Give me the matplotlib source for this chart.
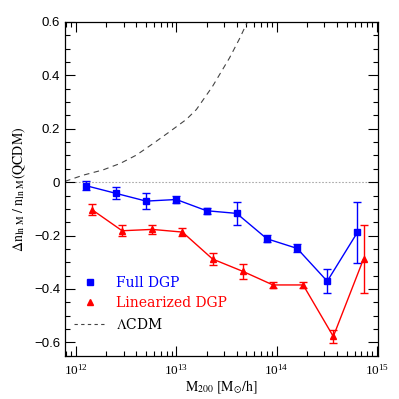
import numpy as np
import matplotlib
matplotlib.use("Agg")
import matplotlib.pyplot as plt
from matplotlib.lines import Line2D
from matplotlib.ticker import MultipleLocator, LogLocator, NullFormatter

plt.rcParams['font.family'] = ['Liberation Serif', 'DejaVu Serif']
plt.rcParams['mathtext.fontset'] = 'stix'

# Full DGP (blue squares)
full_m = [1.25e12, 2.5e12, 5e12, 1e13, 2e13, 4e13, 8e13, 1.6e14, 3.2e14, 6.4e14]
full_y = [-0.013, -0.042, -0.071, -0.065, -0.107, -0.117, -0.212, -0.248, -0.371, -0.188]
full_err = [0.016, 0.022, 0.03, 0.012, 0.012, 0.044, 0.013, 0.015, 0.044, 0.115]

# Linearized DGP (red triangles)
lin_m = [1.44e12, 2.88e12, 5.75e12, 1.15e13, 2.3e13, 4.6e13, 9.2e13, 1.84e14, 3.68e14, 7.36e14]
lin_y = [-0.103, -0.182, -0.177, -0.187, -0.288, -0.334, -0.385, -0.385, -0.578, -0.288]
lin_err = [0.02, 0.02, 0.017, 0.015, 0.022, 0.028, 0.01, 0.012, 0.025, 0.127]

# LCDM curve (log10 M, value)
lcdm_logm = [11.89, 12.07, 12.27, 12.44, 12.60, 12.77, 12.93, 13.10, 13.20,
             13.36, 13.53, 13.63, 13.70, 13.71]
lcdm_y = [0.003, 0.026, 0.046, 0.07, 0.101, 0.145, 0.188, 0.235, 0.272,
          0.358, 0.465, 0.537, 0.593, 0.60]

fig = plt.figure(figsize=(3.99, 3.99), dpi=100)
ax = fig.add_axes([0.163, 0.1085, 0.784, 0.8365])

ax.axhline(0, color='#aaaaaa', lw=0.8, ls=(0, (1.5, 1.5)), zorder=1)

ax.errorbar(full_m, full_y, yerr=full_err, color='blue', marker='s', ms=4.5,
            lw=1, capsize=3, elinewidth=1, capthick=1)
ax.errorbar(lin_m, lin_y, yerr=lin_err, color='red', marker='^', ms=5,
            lw=1, capsize=3, elinewidth=1, capthick=1)
ax.plot(10 ** np.array(lcdm_logm), lcdm_y, color='#444444', lw=0.8,
        ls=(0, (5, 4)))

ax.set_xscale('log')
ax.set_xlim(10 ** 11.89, 10 ** 15.01)
ax.set_ylim(-0.65, 0.6)

ax.yaxis.set_minor_locator(MultipleLocator(0.05))
ax.xaxis.set_major_locator(LogLocator(base=10))
ax.xaxis.set_minor_locator(LogLocator(base=10, subs=np.arange(2, 10)))
ax.xaxis.set_minor_formatter(NullFormatter())
ax.set_yticks([-0.6, -0.4, -0.2, 0, 0.2, 0.4, 0.6])
ax.set_yticklabels(['\u22120.6', '\u22120.4', '\u22120.2', '0', '0.2', '0.4', '0.6'],
                   family='Liberation Sans')

ax.tick_params(which='both', direction='in', top=True, right=True,
               labelsize=9.5, width=0.8)
ax.tick_params(which='major', length=7)
ax.tick_params(which='minor', length=3.5)
ax.tick_params(axis='x', pad=5)
for s in ax.spines.values():
    s.set_linewidth(0.9)

ax.set_xlabel(r'$\mathrm{M}_{200}\ [\mathrm{M}_{\odot}/\mathrm{h}]$', fontsize=10,
              labelpad=1)
ax.set_ylabel(r'$\Delta\mathrm{n}_{\mathrm{ln\ M}}\ /\ \mathrm{n}_{\mathrm{ln\ M}}(\mathrm{QCDM})$',
              fontsize=10)

handles = [
    Line2D([], [], color='blue', marker='s', ms=4.5, ls='none'),
    Line2D([], [], color='red', marker='^', ms=5, ls='none'),
    Line2D([], [], color='#444444', lw=0.8, ls=(0, (3, 3))),
]
labels = ['Full DGP', 'Linearized DGP', r'$\Lambda$CDM']
leg = ax.legend(handles, labels, loc='lower left', bbox_to_anchor=(-0.01, 0.035),
                frameon=False, prop={'family': 'DejaVu Serif', 'size': 10},
                handlelength=2.2, labelspacing=0.45, handletextpad=0.8)
for t, c in zip(leg.get_texts(), ['blue', 'red', 'black']):
    t.set_color(c)

fig.savefig('out.png', dpi=100)
